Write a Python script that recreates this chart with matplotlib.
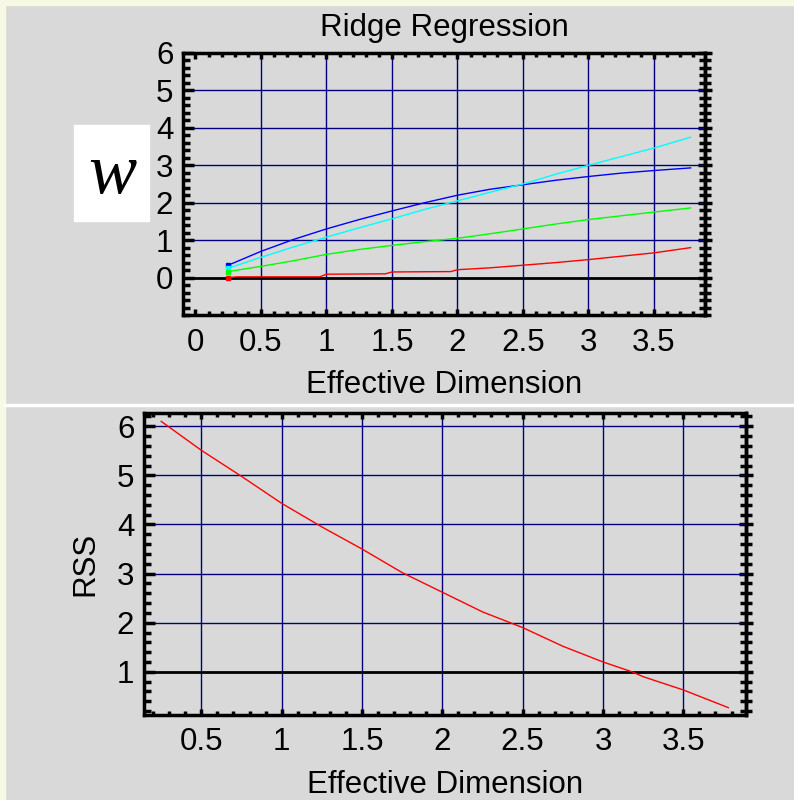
import numpy as np
import matplotlib
matplotlib.use('Agg')
import matplotlib.pyplot as plt
from matplotlib.patches import Rectangle
from matplotlib.lines import Line2D
from matplotlib.ticker import MultipleLocator, FormatStrFormatter

plt.rcParams['font.family'] = ['Liberation Sans', 'DejaVu Sans']

# ridge coefficient paths vs effective dimension
dim = [0.25, 0.5, 0.75, 1.0, 1.25, 1.5, 1.75, 2.0, 2.25, 2.5, 2.75, 3.0, 3.25, 3.5, 3.78]
w_blue = [0.33, 0.70, 1.02, 1.30, 1.55, 1.78, 2.00, 2.20, 2.36, 2.48, 2.60, 2.70, 2.79, 2.86, 2.93]
w_cyan = [0.25, 0.54, 0.82, 1.08, 1.33, 1.57, 1.82, 2.05, 2.28, 2.50, 2.76, 3.00, 3.23, 3.46, 3.75]
w_green = [0.16, 0.30, 0.45, 0.62, 0.75, 0.86, 0.96, 1.05, 1.17, 1.30, 1.43, 1.55, 1.65, 1.75, 1.86]
red_dim = [0.25, 0.32, 0.95, 1.0, 1.45, 1.5, 1.95, 2.0, 2.25, 2.5, 2.75, 3.0, 3.25, 3.5, 3.78]
w_red = [0.0, 0.02, 0.02, 0.09, 0.10, 0.15, 0.16, 0.21, 0.26, 0.33, 0.40, 0.48, 0.57, 0.66, 0.80]

rss_dim = [0.25, 0.5, 0.75, 1.0, 1.25, 1.5, 1.75, 2.0, 2.25, 2.5, 2.75, 3.0, 3.18, 3.25, 3.5, 3.78]
rss = [6.10, 5.51, 4.98, 4.43, 3.95, 3.50, 3.02, 2.62, 2.22, 1.90, 1.52, 1.20, 1.00, 0.90, 0.63, 0.27]

top_xticks = [0, 0.5, 1, 1.5, 2, 2.5, 3, 3.5]
top_yticks = [0, 1, 2, 3, 4, 5, 6]
bot_xticks = [0.5, 1, 1.5, 2, 2.5, 3, 3.5]
bot_yticks = [1, 2, 3, 4, 5, 6]

bg = '#d9d9d9'
grid_c = '#00007f'
fs = 22.5

fig = plt.figure(figsize=(7.94, 8), dpi=100, facecolor=bg)
# pale frame on left and top
fig.patches.append(Rectangle((0, 0), 5/794., 1, transform=fig.transFigure, color='#f7f9e4', zorder=0))
fig.patches.append(Rectangle((0, 1-5/800.), 1, 5/800., transform=fig.transFigure, color='#f7f9e4', zorder=0))
fig.lines.append(Line2D([5/794., 1], [1-405/800., 1-405/800.], transform=fig.transFigure, color='white', lw=2.5))


def style(ax, xt, yt, xlim, ylim):
    ax.set_facecolor(bg)
    ax.set_xlim(*xlim)
    ax.set_ylim(*ylim)
    ax.set_xticks(xt)
    ax.set_yticks(yt)
    ax.xaxis.set_major_formatter(FormatStrFormatter('%g'))
    ax.yaxis.set_major_formatter(FormatStrFormatter('%g'))
    ax.xaxis.set_minor_locator(MultipleLocator(0.1))
    ax.yaxis.set_minor_locator(MultipleLocator(0.2))
    for s in ax.spines.values():
        s.set_linewidth(2.5)
        s.set_color('black')
    ax.tick_params(axis='both', which='both', direction='in', width=2.5, color='black',
                   top=True, right=True, labelsize=fs)
    ax.tick_params(axis='y', which='major', length=8, pad=7)
    ax.tick_params(axis='y', which='minor', length=5)
    ax.tick_params(axis='x', which='major', length=4, pad=9)
    ax.tick_params(axis='x', which='minor', length=3)
    ax.tick_params(axis='y', which='both', right=False)
    ax2 = ax.secondary_yaxis('right')
    ax2.set_yticks(yt)
    ax2.yaxis.set_minor_locator(MultipleLocator(0.2))
    ax2.tick_params(which='both', direction='inout', width=2.5, labelright=False)
    ax2.tick_params(which='major', length=10)
    ax2.tick_params(which='minor', length=8)
    ax2.spines['right'].set_linewidth(2.5)


# top panel
ax = fig.add_axes([183/794., 1-315/800., 522/794., 262/800.])
style(ax, top_xticks, top_yticks, (-0.095, 3.89), (-1, 6))
for v in top_xticks[1:]:
    ax.axvline(v, color=grid_c, lw=1, zorder=1)
for v in top_yticks[1:-1]:
    ax.axhline(v, color=grid_c, lw=1, zorder=1)
ax.axhline(0, color='black', lw=2, zorder=2)
ax.plot(dim, w_blue, color='#0000ff', lw=1, zorder=3)
ax.plot(dim, w_cyan, color='#00ffff', lw=1, zorder=3)
ax.plot(dim, w_green, color='#00ff00', lw=1, zorder=3)
ax.plot(red_dim, w_red, color='#ff0000', lw=1, zorder=3)
for ys, c in [(w_blue, '#0000ff'), (w_cyan, '#00ffff'), (w_green, '#00ff00'), (w_red, '#ff0000')]:
    ax.plot(dim[0], ys[0], 's', color=c, ms=3, zorder=4)
ax.set_title('Ridge Regression', fontsize=fs, pad=12)
ax.set_xlabel('Effective Dimension', fontsize=fs, labelpad=9)

# w label box
fig.patches.append(Rectangle((74/794., 1-221/800.), 75/794., 96/800., transform=fig.transFigure,
                             color='white', zorder=1))
fig.text(112/794., 1-176/800., 'w', family='Liberation Serif', style='italic', fontsize=52,
         ha='center', va='center')

# bottom panel
ax = fig.add_axes([144/794., 1-715/800., 602/794., 302/800.])
style(ax, bot_xticks, bot_yticks, (0.143, 3.89), (0.12, 6.27))
for v in bot_xticks:
    ax.axvline(v, color=grid_c, lw=1, zorder=1)
for v in bot_yticks[1:]:
    ax.axhline(v, color=grid_c, lw=1, zorder=1)
ax.axhline(1, color='black', lw=2, zorder=2)
ax.plot(rss_dim, rss, color='#ff0000', lw=1, zorder=3)
ax.set_xlabel('Effective Dimension', fontsize=fs, labelpad=9)
ax.set_ylabel('RSS', fontsize=fs, labelpad=12)

fig.savefig('out.png', dpi=100, facecolor=bg)
